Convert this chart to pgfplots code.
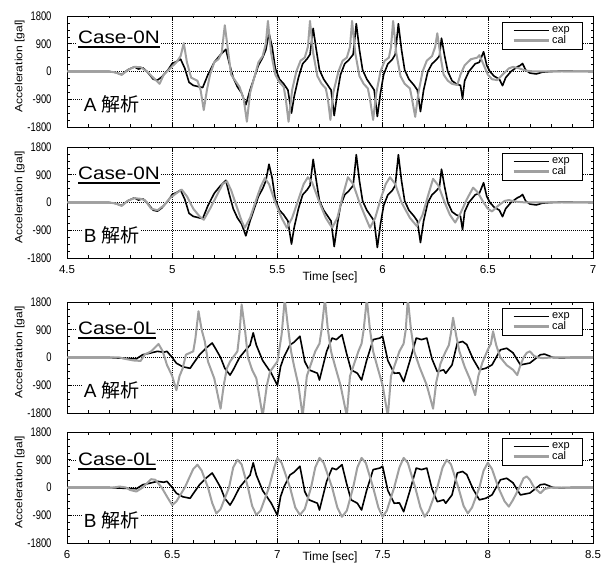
\documentclass[border=0pt]{standalone}
\usepackage{fontspec}
\setmainfont{Liberation Sans}
\newfontfamily\jp{Noto Sans CJK JP}
\newfontfamily\ytfont[FakeStretch=0.75]{Liberation Sans}
\newfontfamily\ylfont[FakeStretch=1.15]{Liberation Sans}
\newfontfamily\casefnt[FakeStretch=1.15]{Liberation Sans}
\usepackage{pgfplots}
\usepackage{pgfplotstable}
\pgfplotsset{compat=1.18}
\definecolor{calgray}{RGB}{160,160,160}
\newcommand\caselab[1]{\vtop{\hbox{#1}\kern2.5pt\hrule height 2pt}}

\pgfplotstableread{
t a
4.5 0
4.70 0
4.73 -30
4.76 -100
4.79 60
4.82 150
4.84 80
4.86 120
4.88 0
4.91 -250
4.93 -280
4.95 -180
4.98 50
5.00 260
5.02 320
5.04 400
5.06 100
5.08 -350
5.10 -450
5.13 -500
5.145 -520
5.17 -100
5.20 300
5.23 550
5.255 720
5.27 300
5.29 -200
5.31 -500
5.33 -700
5.35 -1080
5.37 -600
5.39 -200
5.41 200
5.43 450
5.445 700
5.46 1240
5.475 800
5.49 100
5.51 -250
5.53 -400
5.55 -600
5.567 -1350
5.58 -800
5.60 -200
5.62 250
5.64 400
5.655 550
5.67 1400
5.685 700
5.70 50
5.72 -250
5.74 -450
5.755 -600
5.77 -1430
5.785 -700
5.80 -100
5.82 250
5.84 380
5.86 550
5.875 1550
5.89 700
5.905 50
5.925 -250
5.945 -450
5.96 -600
5.975 -1460
5.99 -700
6.005 -100
6.025 250
6.045 380
6.06 550
6.075 1550
6.09 700
6.105 50
6.125 -250
6.15 -450
6.165 -600
6.18 -1300
6.195 -600
6.215 0
6.235 250
6.255 380
6.27 500
6.28 1080
6.295 500
6.31 0
6.33 -300
6.35 -400
6.37 -450
6.38 -880
6.39 -300
6.41 0
6.44 250
6.46 300
6.48 640
6.495 200
6.51 0
6.53 -150
6.555 -250
6.57 -460
6.585 -200
6.61 0
6.64 150
6.655 200
6.665 260
6.68 50
6.70 -50
6.73 -80
6.76 -20
6.80 0
6.85 10
7.0 0
}\expN

\pgfplotstableread{
t a
4.5 0
4.70 0
4.73 -30
4.76 -110
4.79 50
4.82 150
4.85 140
4.88 0
4.91 -200
4.94 -400
4.96 -100
4.99 100
5.02 300
5.04 500
5.055 920
5.07 300
5.09 -200
5.12 -300
5.135 -600
5.15 -1250
5.165 -600
5.18 -100
5.20 300
5.22 400
5.235 600
5.25 1500
5.265 700
5.28 -100
5.30 -300
5.32 -500
5.34 -900
5.355 -1630
5.37 -700
5.39 -200
5.41 300
5.43 500
5.445 900
5.455 1640
5.47 600
5.49 -100
5.51 -350
5.53 -500
5.54 -900
5.553 -1630
5.57 -600
5.59 0
5.61 350
5.63 450
5.645 800
5.655 1640
5.67 600
5.69 -150
5.71 -400
5.73 -550
5.74 -900
5.752 -1570
5.765 -700
5.79 0
5.81 350
5.83 450
5.845 800
5.855 1640
5.87 600
5.89 -150
5.91 -400
5.93 -550
5.94 -900
5.955 -1570
5.97 -700
5.99 0
6.01 350
6.03 450
6.04 800
6.05 1640
6.065 600
6.085 -150
6.105 -400
6.13 -550
6.14 -900
6.155 -1470
6.17 -700
6.19 0
6.21 350
6.235 500
6.25 800
6.26 1240
6.275 500
6.29 -100
6.31 -300
6.33 -400
6.355 -440
6.37 -100
6.39 200
6.42 400
6.45 450
6.46 530
6.475 300
6.5 -100
6.52 -250
6.545 -280
6.57 -100
6.6 100
6.62 150
6.65 100
6.68 30
6.72 0
7.0 0
}\calNA

\pgfplotstableread{
t a
4.5 0
4.70 0
4.73 -30
4.76 -110
4.79 60
4.82 140
4.85 120
4.87 80
4.90 -200
4.93 -250
4.96 -100
4.99 150
5.02 300
5.045 420
5.07 200
5.10 -200
5.13 -450
5.15 -560
5.18 -200
5.21 200
5.24 600
5.26 690
5.28 400
5.31 -200
5.33 -600
5.345 -820
5.37 -500
5.40 100
5.42 500
5.44 790
5.46 600
5.49 0
5.52 -500
5.545 -820
5.57 -500
5.60 100
5.625 600
5.645 820
5.665 650
5.70 0
5.73 -500
5.76 -820
5.785 -500
5.81 200
5.835 820
5.86 600
5.89 0
5.92 -500
5.94 -820
5.965 -500
5.99 100
6.015 600
6.035 820
6.06 600
6.09 0
6.13 -500
6.163 -770
6.19 -400
6.215 200
6.24 770
6.265 550
6.295 0
6.32 -400
6.345 -650
6.37 -350
6.40 100
6.43 480
6.45 350
6.48 0
6.50 -200
6.52 -290
6.55 -100
6.58 50
6.6 80
6.63 30
6.68 0
7.0 0
}\calNB

\pgfplotstableread{
t a
6.0 0
6.2 0
6.25 -20
6.30 -30
6.33 -40
6.36 90
6.40 150
6.43 200
6.46 170
6.475 200
6.50 0
6.52 -185
6.55 -300
6.585 -350
6.60 -200
6.63 90
6.66 300
6.69 470
6.705 300
6.73 0
6.75 -350
6.775 -570
6.79 -400
6.82 0
6.85 250
6.87 400
6.885 800
6.90 400
6.93 -100
6.95 -300
6.97 -500
7.0 -900
7.015 -300
7.03 0
7.06 410
7.08 500
7.107 690
7.13 -130
7.15 -400
7.19 -510
7.2 -730
7.234 200
7.26 630
7.28 580
7.307 740
7.33 100
7.35 -400
7.38 -510
7.4 -730
7.424 -100
7.455 580
7.487 630
7.5 690
7.525 -100
7.555 -510
7.58 -500
7.6 -785
7.63 -100
7.66 630
7.685 580
7.71 630
7.735 -50
7.76 -460
7.79 -400
7.8 -510
7.83 -240
7.855 470
7.88 520
7.9 420
7.93 -50
7.96 -400
7.99 -350
8.02 -240
8.06 250
8.09 300
8.12 150
8.155 -240
8.2 -180
8.25 90
8.27 110
8.31 0
8.35 -10
8.4 0
8.5 0
}\expL

\pgfplotstableread{
t a
6.0 0
6.25 0
6.28 -50
6.32 -100
6.35 -110
6.37 100
6.40 200
6.435 440
6.455 200
6.475 -240
6.50 -600
6.52 -1060
6.535 -600
6.55 -350
6.565 90
6.6 200
6.61 600
6.625 1500
6.64 900
6.655 520
6.67 -130
6.70 -680
6.73 -1660
6.745 -900
6.76 -350
6.775 -130
6.81 200
6.82 800
6.83 1720
6.845 960
6.86 0
6.88 -400
6.9 -680
6.93 -1900
6.95 -900
6.965 -460
7.0 -130
7.02 740
7.035 1900
7.05 1000
7.065 200
7.08 -300
7.10 -900
7.12 -1900
7.14 -600
7.16 -200
7.18 200
7.20 450
7.21 900
7.226 1900
7.24 900
7.255 200
7.275 -300
7.30 -900
7.33 -1900
7.345 -600
7.365 -200
7.385 200
7.40 450
7.41 900
7.425 1900
7.44 900
7.455 200
7.475 -300
7.50 -900
7.525 -1900
7.54 -600
7.56 -200
7.58 200
7.60 450
7.61 900
7.62 1900
7.635 900
7.65 200
7.675 -300
7.71 -900
7.74 -1660
7.755 -800
7.775 -200
7.80 200
7.815 400
7.825 800
7.835 1290
7.85 700
7.865 200
7.89 -300
7.915 -700
7.94 -1220
7.955 -600
7.975 -150
8.0 250
8.015 450
8.025 850
8.04 400
8.06 0
8.09 -250
8.12 -400
8.14 -570
8.155 -250
8.17 0
8.185 150
8.2 200
8.22 50
8.24 0
8.26 -20
8.3 0
8.5 0
}\calLA

\pgfplotstableread{
t a
6.0 0
6.22 0
6.25 30
6.28 0
6.30 -80
6.33 -130
6.36 0
6.40 270
6.42 250
6.45 0
6.48 -350
6.50 -570
6.52 -450
6.56 0
6.60 600
6.62 740
6.64 550
6.67 0
6.69 -500
6.71 -840
6.73 -700
6.77 0
6.79 650
6.81 900
6.83 750
6.86 0
6.88 -600
6.90 -890
6.92 -750
6.96 0
6.985 650
7.0 960
7.02 800
7.06 0
7.085 -650
7.107 -890
7.13 -700
7.16 0
7.18 650
7.2 960
7.22 800
7.26 0
7.285 -650
7.307 -950
7.33 -750
7.36 0
7.38 650
7.4 960
7.42 800
7.455 0
7.48 -650
7.5 -950
7.52 -750
7.555 0
7.58 650
7.6 960
7.62 800
7.655 0
7.68 -650
7.7 -950
7.72 -750
7.76 0
7.785 650
7.805 900
7.825 750
7.86 0
7.885 -600
7.905 -840
7.925 -650
7.96 0
7.98 550
8.0 800
8.02 600
8.05 0
8.08 -450
8.1 -620
8.12 -400
8.15 0
8.17 300
8.185 360
8.2 250
8.22 0
8.25 -185
8.27 -50
8.3 0
8.5 0
}\calLB

\pgfplotsset{panel/.style={
  scale only axis, width=526pt, height=111pt,
  anchor=south west,
  ymin=-1800, ymax=1800, ytick={-1800,-900,0,900,1800},
  minor y tick num=3, minor x tick num=4,
  tick align=inside, major tick length=4pt, minor tick length=2.5pt,
  every tick/.style={black, line width=0.6pt},
  grid=major, grid style={black, line width=0.5pt, dash pattern=on 1pt off 1pt},
  axis line style={line width=0.8pt},
  ylabel={Acceleration [gal]},
  ylabel style={font=\ylfont\fontsize{10.5}{11}\selectfont, at={(axis description cs:-0.09,0.55)}, anchor=center},
  yticklabel style={font=\ytfont\fontsize{12.5}{12.5}\selectfont, xshift=-12pt},
  xticklabel style={font=\fontsize{11.5}{11.5}\selectfont, yshift=-4pt},
  /pgf/number format/assume math mode=true,
  /pgf/number format/1000 sep={},
  legend style={at={(0.979,0.946)}, anchor=north east, draw=black,
    font=\fontsize{11}{12}\selectfont, inner xsep=10pt, inner ysep=2.5pt, row sep=-2.5pt},
  legend cell align=left,
  xlabel style={font=\fontsize{12}{12}\selectfont, at={(axis description cs:0.5,0)}, anchor=north, inner sep=0pt, yshift=-14pt},
}}
\tikzset{expline/.style={black, line width=1.6pt, line join=round},
  calline/.style={calgray, line width=2pt, line join=round},
  casenode/.style={anchor=base west, fill=white, inner sep=1pt, font=\casefnt\fontsize{18}{18}\selectfont},
  anal/.style={anchor=base west, fill=white, inner sep=1pt, font=\fontsize{19}{19}\selectfont}}
\pgfplotsset{
  explegend/.style={legend image code/.code={\draw[black, line width=1.8pt] (0pt,0pt) -- (35pt,0pt);}},
  callegend/.style={legend image code/.code={\draw[calgray, line width=2.6pt] (0pt,0pt) -- (35pt,0pt);}},
}

\begin{document}
\begin{tikzpicture}
\useasboundingbox (0pt,0pt) rectangle (603pt,565pt);
% Panel 1
\begin{axis}[panel, at={(67pt,438pt)}, xmin=4.5, xmax=7, xtick={4.5,5,5.5,6,6.5,7}, xticklabels={}]
\addplot[expline, explegend] table {\expN};
\addlegendentry{exp}
\addplot[calline, callegend] table {\calNA};
\addlegendentry{cal}
\node[casenode] at (rel axis cs:0.019,0.754) {\caselab{Case-0N}};
\node[anal] at (rel axis cs:0.030,0.144) {A {\jp 解析}};
\end{axis}
% Panel 2
\begin{axis}[panel, at={(67pt,307pt)}, xmin=4.5, xmax=7, xtick={4.5,5,5.5,6,6.5,7}, xlabel={Time [sec]}]
\addplot[expline, explegend] table {\expN};
\addlegendentry{exp}
\addplot[calline, callegend] table {\calNB};
\addlegendentry{cal}
\node[casenode] at (rel axis cs:0.019,0.71) {\caselab{Case-0N}};
\node[anal] at (rel axis cs:0.030,0.144) {B {\jp 解析}};
\end{axis}
% Panel 3
\begin{axis}[panel, at={(67pt,152pt)}, xmin=6, xmax=8.5, xtick={6,6.5,7,7.5,8,8.5}, xticklabels={}]
\addplot[expline, explegend] table {\expL};
\addlegendentry{exp}
\addplot[calline, callegend] table {\calLA};
\addlegendentry{cal}
\node[casenode] at (rel axis cs:0.019,0.71) {\caselab{Case-0L}};
\node[anal] at (rel axis cs:0.030,0.144) {A {\jp 解析}};
\end{axis}
% Panel 4
\begin{axis}[panel, at={(67pt,22pt)}, xmin=6, xmax=8.5, xtick={6,6.5,7,7.5,8,8.5}, xlabel={Time [sec]},
  xlabel style={yshift=5pt}]
\addplot[expline, explegend] table {\expL};
\addlegendentry{exp}
\addplot[calline, callegend] table {\calLB};
\addlegendentry{cal}
\node[casenode] at (rel axis cs:0.019,0.70) {\caselab{Case-0L}};
\node[anal] at (rel axis cs:0.030,0.144) {B {\jp 解析}};
\end{axis}
\end{tikzpicture}
\end{document}
